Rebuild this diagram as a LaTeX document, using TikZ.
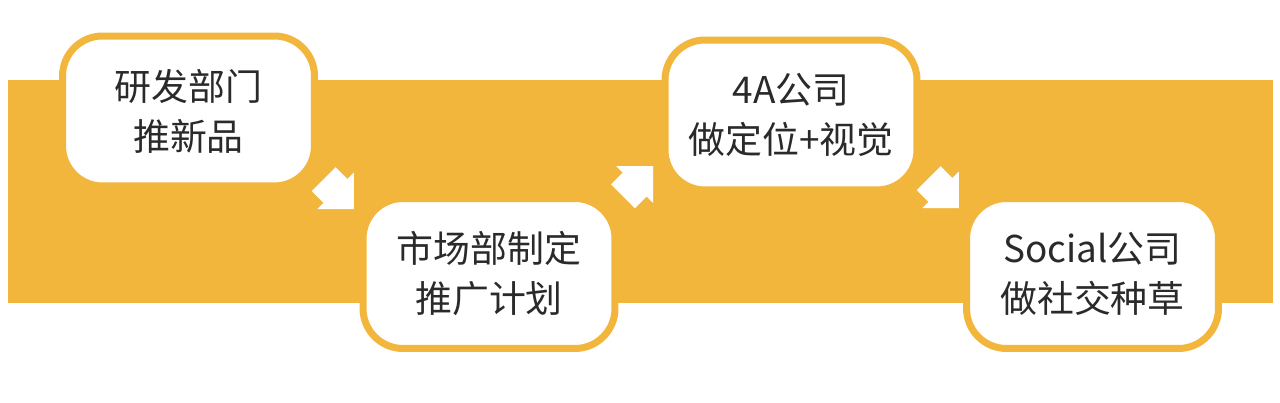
\documentclass[tikz,border=0pt]{standalone}
\usepackage{fontspec}
\newfontfamily\cjk{Noto Sans CJK SC}
\usetikzlibrary{calc}
\usetikzlibrary{shapes.arrows}
\definecolor{bandorange}{HTML}{F3B63C}
\definecolor{textgray}{HTML}{2A2A2A}
\tikzset{
  stagebox/.style={draw=bandorange, line width=0.14cm, fill=white, rounded corners=0.8cm,
    minimum width=5.04cm, minimum height=3.0cm, align=center, text=textgray,
    font=\cjk\fontsize{21}{28.5}\selectfont},
  fatarrow/.style={single arrow, fill=white, inner xsep=0.25cm, inner ysep=0.33cm,
    minimum width=1.0cm, single arrow head extend=0.18cm, single arrow tip angle=90}
}

\begin{document}
\begin{tikzpicture}[x=0.02cm,y=0.02cm]
	\useasboundingbox (0,0) rectangle (1280,402);
	\fill [white] (0,0) rectangle (1280,402);
	% orange band behind the steps
	\fill [bandorange] (8,99) rectangle (1273,322);

	\node [stagebox] (rd)     at (188.5,291) {研发部门\\推新品};
	\node [stagebox] (mkt)    at (489,128.5) {市场部制定\\推广计划};
	\node [stagebox] (agency) at (791,287)   {4A公司\\做定位+视觉};
	\node [stagebox] (social) at (1092.5,128.5) {Social公司\\做社交种草};

	\node [fatarrow, rotate=-45] (a1) at ($(rd)!0.5!(mkt)+(-6,4)$) {};
	\node [fatarrow, rotate=45]  (a2) at ($(mkt)!0.5!(agency)+(-8,7)$) {};
	\node [fatarrow, rotate=-45] (a3) at ($(agency)!0.5!(social)+(-4,7)$) {};
\end{tikzpicture}
\end{document}
